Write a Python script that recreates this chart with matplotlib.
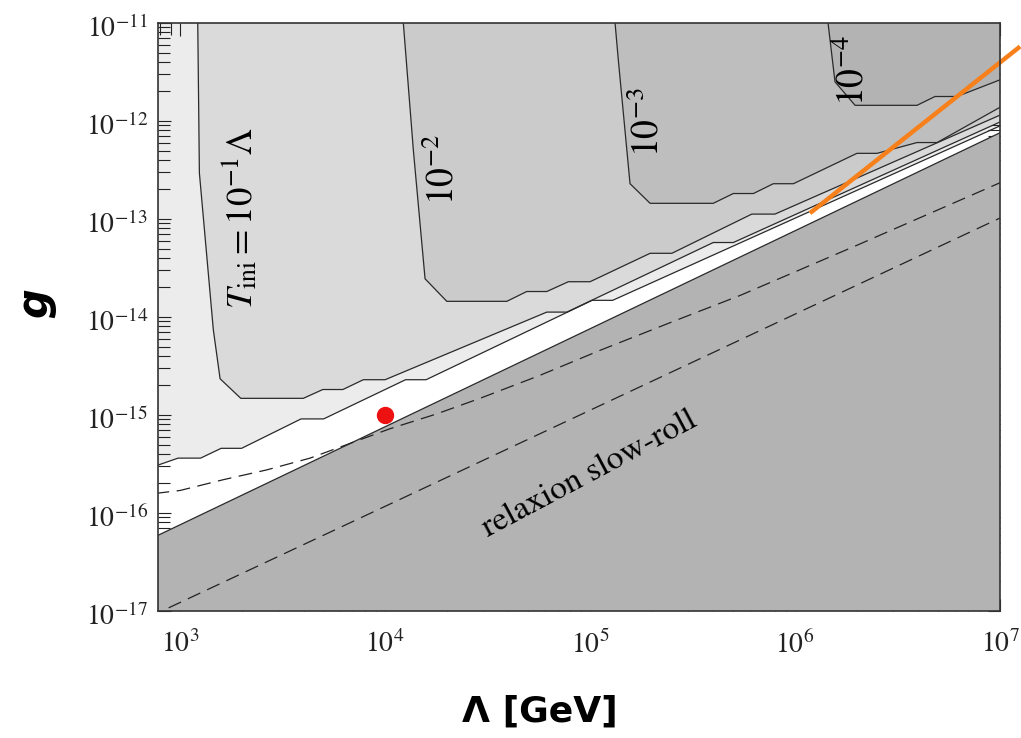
import numpy as np
import matplotlib
matplotlib.use('Agg')
import matplotlib.pyplot as plt
from matplotlib.transforms import ScaledTranslation, blended_transform_factory

plt.rcParams['font.family'] = ['STIXGeneral', 'DejaVu Sans']
plt.rcParams['mathtext.fontset'] = 'stix'

# ---------------- data (log10 Lambda [GeV], log10 g) ----------------
# lower boundary of white band (edge of relaxion slow-roll region)
slowroll_logL = [2.88, 7.0]
slowroll_logg = [-16.24, -12.12]

# upper boundary of white band
white_top_logL = [2.88, 2.99, 3.10, 3.20, 3.30, 3.59, 3.70, 4.10, 4.20, 5.01, 5.11, 7.0]
white_top_logg = [-15.52, -15.44, -15.44, -15.34, -15.34, -15.04, -15.04, -14.64, -14.64, -13.83, -13.83, -12.05]

# T_ini contours (10^-1, 10^-2, 10^-3, 10^-4 Lambda)
t1_logL = [3.086, 3.094, 3.162, 3.195, 3.296, 3.601, 3.696, 3.794, 3.894, 4.0, 4.789, 4.887, 5.601, 5.699, 7.0]
t1_logg = [-11.0, -12.53, -14.13, -14.63, -14.83, -14.83, -14.74, -14.74, -14.64, -14.64, -13.95, -13.95, -13.24, -13.24, -12.01]

t2_logL = [4.089, 4.138, 4.195, 4.301, 4.594, 4.691, 4.789, 4.894, 5.0, 5.293, 5.399, 5.789, 5.902, 7.0]
t2_logg = [-11.0, -12.30, -13.61, -13.84, -13.84, -13.74, -13.74, -13.64, -13.64, -13.35, -13.35, -12.95, -12.95, -11.94]

t3_logL = [5.122, 5.138, 5.195, 5.293, 5.601, 5.699, 5.797, 5.894, 5.992, 6.302, 6.400, 6.595, 6.693, 7.0]
t3_logg = [-11.0, -11.38, -12.64, -12.84, -12.84, -12.74, -12.74, -12.64, -12.64, -12.33, -12.33, -12.22, -12.22, -11.86]

t4_logL = [6.161, 6.195, 6.293, 6.595, 6.683, 6.790, 7.0]
t4_logg = [-11.0, -11.60, -11.84, -11.84, -11.75, -11.75, -11.58]

# dashed curves
dash_up_logL = [2.88, 3.0, 3.211, 3.423, 3.634, 3.829, 4.024, 4.25, 4.463, 4.75, 5.049, 5.4, 5.732, 6.3, 7.0]
dash_up_logg = [-15.80, -15.77, -15.66, -15.56, -15.44, -15.29, -15.14, -14.99, -14.83, -14.60, -14.34, -14.05, -13.78, -13.27, -12.63]

dash_lo_logL = [2.85, 7.0]
dash_lo_logg = [-17.06, -12.99]

# benchmark point and orange line
point_L, point_g = 1e4, 1e-15
orange_logL = [6.073, 7.098]
orange_logg = [-12.94, -11.24]

# tick labels
ytick_exps = [-17, -16, -15, -14, -13, -12, -11]
xtick_exps = [3, 4, 5, 6, 7]

region_colors = ['#ececec', '#dadada', '#cbcbcb', '#bebebe', '#b3b3b3']
slowroll_color = '#b3b3b3'

xmin, xmax = 780, 1e7
ymin, ymax = 1e-17, 1e-11

# ---------------- figure ----------------
W, H = 1021, 738
fig = plt.figure(figsize=(W / 100, H / 100), dpi=100)
ax = fig.add_axes([158 / W, 1 - 611 / H, (1000 - 158) / W, (611 - 23) / H])
ax.set_xscale('log')
ax.set_yscale('log')

def p(a):
    return 10 ** np.asarray(a, dtype=float)

top = np.log10(ymax)
right = np.log10(xmax)
left = 2.88

# lightest region: everything above white band
ax.fill(p(white_top_logL + [right, left]), p(white_top_logg + [top, top]),
        color=region_colors[0], lw=0, zorder=1)
for k, (lx, ly) in enumerate([(t1_logL, t1_logg), (t2_logL, t2_logg),
                              (t3_logL, t3_logg), (t4_logL, t4_logg)]):
    ax.fill(p(lx + [right]), p(ly + [top]), color=region_colors[k + 1], lw=0, zorder=2 + k)
# slow-roll region
ax.fill(p(slowroll_logL + [right, left]), p(slowroll_logg + [-17.5, -17.5]),
        color=slowroll_color, lw=0, zorder=6)

lc = '#2a2a2a'
for lx, ly in [(white_top_logL, white_top_logg), (t1_logL, t1_logg), (t2_logL, t2_logg),
               (t3_logL, t3_logg), (t4_logL, t4_logg), (slowroll_logL, slowroll_logg)]:
    ax.plot(p(lx), p(ly), color=lc, lw=0.9, zorder=7)

ax.plot(p(dash_up_logL), p(dash_up_logg), color='#222222', lw=0.9, ls=(0, (11, 6)), zorder=7)
ax.plot(p(dash_lo_logL), p(dash_lo_logg), color='#222222', lw=0.9, ls=(0, (11, 6)), zorder=7)

ax.plot([point_L], [point_g], 'o', color='#ee1111', ms=11.5, zorder=9)
ax.plot(p(orange_logL), p(orange_logg), color='#f7801a', lw=3.2, zorder=10,
        clip_on=False, solid_capstyle='butt')

# labels inside
ax.text(10 ** 3.293, 10 ** -12.99, r'$T_{\rm ini}=10^{-1}\Lambda$', rotation=90,
        ha='center', va='center', fontsize=26.5, zorder=8)
ax.text(10 ** 4.283, 10 ** -12.5, r'$10^{-2}$', rotation=90, ha='center', va='center',
        fontsize=27, zorder=8)
ax.text(10 ** 5.283, 10 ** -12.01, r'$10^{-3}$', rotation=90, ha='center', va='center',
        fontsize=27, zorder=8)
ax.text(10 ** 6.285, 10 ** -11.49, r'$10^{-4}$', rotation=90, ha='center', va='center',
        fontsize=27, zorder=8)
ax.text(10 ** 5.0, 10 ** -15.60, 'relaxion slow-roll', rotation=28, rotation_mode='anchor',
        ha='center', va='center', fontsize=24, zorder=8)

ax.set_xlim(xmin, xmax)
ax.set_ylim(ymin, ymax)

ax.tick_params(which='both', direction='in', top=True, right=True, width=0.8,
               labelsize=20, colors='#222222')
ax.tick_params(which='major', length=9)
ax.tick_params(which='minor', length=8.5)
ax.tick_params(axis='x', pad=14)
ax.tick_params(axis='y', labelleft=False)
for s in ax.spines.values():
    s.set_linewidth(1.2)
    s.set_color('#333333')
    s.set_zorder(11)

# y tick labels drawn as text, baseline slightly below each decade
ytr = blended_transform_factory(ax.transAxes, ax.transData) + \
    ScaledTranslation(-10 / 100, -14 / 100, fig.dpi_scale_trans)
for e in ytick_exps:
    ax.text(0, 10.0 ** e, r'$10^{%d}$' % e, transform=ytr, ha='right', va='baseline',
            fontsize=20, color='#222222', clip_on=False)

fig.text(35 / W, 1 - 303 / H, 'g', rotation=90, ha='center', va='center',
         fontsize=30, fontweight='bold', family='DejaVu Sans', style='italic')
fig.text(540 / W, 1 - 712 / H, r'Λ [GeV]', ha='center', va='center',
         fontsize=26, fontweight='bold', family='DejaVu Sans')

fig.savefig('out.png', dpi=100)
